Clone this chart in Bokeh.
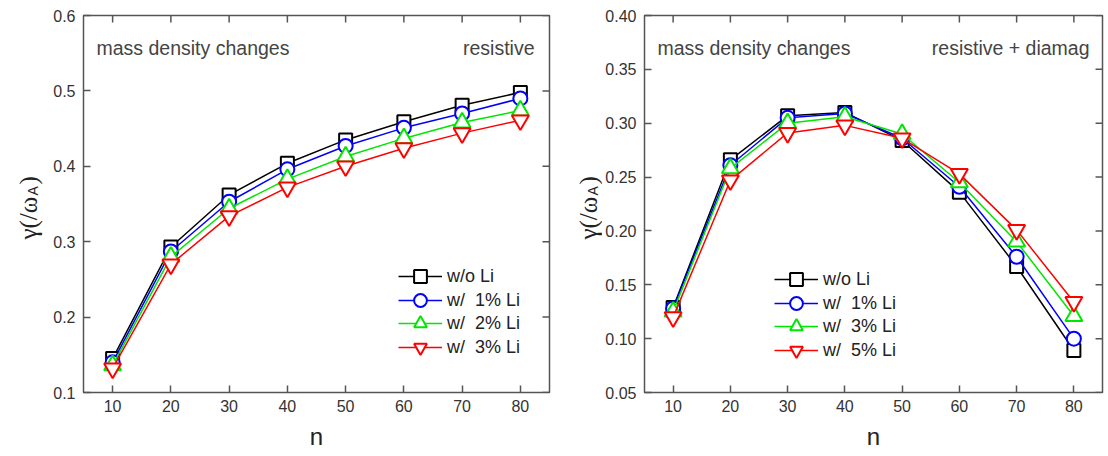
from bokeh.plotting import figure
from bokeh.layouts import row
from bokeh.models import (Range1d, FixedTicker, Legend, LegendItem, Label,
                          NumeralTickFormatter, ColumnDataSource)
from bokeh.embed import file_html
from bokeh.resources import INLINE

# ---------------- data ----------------
n = [10, 20, 30, 40, 50, 60, 70, 80]

left_labels = ["w/o Li", "w/  1% Li", "w/  2% Li", "w/  3% Li"]
left_wo = [0.145, 0.293, 0.362, 0.404, 0.435, 0.459, 0.481, 0.498]
left_1 = [0.140, 0.287, 0.353, 0.396, 0.427, 0.451, 0.470, 0.490]
left_2 = [0.136, 0.280, 0.344, 0.383, 0.413, 0.437, 0.458, 0.474]
left_3 = [0.132, 0.270, 0.334, 0.372, 0.400, 0.424, 0.444, 0.461]

right_labels = ["w/o Li", "w/  1% Li", "w/  3% Li", "w/  5% Li"]
right_wo = [0.129, 0.266, 0.307, 0.310, 0.284, 0.236, 0.167, 0.089]
right_1 = [0.128, 0.261, 0.305, 0.309, 0.286, 0.241, 0.176, 0.100]
right_3 = [0.125, 0.258, 0.300, 0.306, 0.290, 0.245, 0.190, 0.121]
right_5 = [0.120, 0.247, 0.291, 0.298, 0.286, 0.253, 0.201, 0.134]

x_limits = (5, 85)
left_ylim = (0.1, 0.6)
right_ylim = (0.05, 0.40)
left_yticks = [0.1, 0.2, 0.3, 0.4, 0.5, 0.6]
right_yticks = [0.05, 0.10, 0.15, 0.20, 0.25, 0.30, 0.35, 0.40]

left_title_l, left_title_r = "mass density changes", "resistive"
right_title_l, right_title_r = "mass density changes", "resistive + diamag"

colors = ["#000000", "#0000ff", "#00e600", "#ff0000"]
markers = ["square", "circle", "triangle", "inverted_triangle"]
msizes = [13, 14, 17, 17]

FRAME_C = "#555555"
TEXT_C = "#333333"
H = 452
TOP, BOTTOM = 15, 59
FRAME_H = H - TOP - BOTTOM
TICK = 7


def ylabel_fig(width, base_x):
    f = figure(width=width, height=H, output_backend="svg", toolbar_location=None,
               x_axis_location=None, y_axis_location=None,
               min_border_left=0, min_border_right=0,
               min_border_top=TOP, min_border_bottom=BOTTOM,
               x_range=Range1d(0, 1), y_range=Range1d(0, 1))
    f.outline_line_color = None
    f.grid.visible = False
    # positions measured from the frame bottom (which sits at the panels' x axis)
    f.add_layout(Label(x=base_x, y=FRAME_H - 225, x_units="screen", y_units="screen",
                       text="γ(/ω", angle=90, angle_units="deg", text_align="left",
                       text_baseline="alphabetic", text_font="Liberation Serif",
                       text_font_size="25px", text_color="#222222"))
    f.add_layout(Label(x=base_x + 4, y=FRAME_H - 181, x_units="screen", y_units="screen",
                       text="A", angle=90, angle_units="deg", text_align="left",
                       text_baseline="alphabetic", text_font="Liberation Sans",
                       text_font_size="14px", text_color="#222222"))
    f.add_layout(Label(x=base_x, y=FRAME_H - 170, x_units="screen", y_units="screen",
                       text=")", angle=90, angle_units="deg", text_align="left",
                       text_baseline="alphabetic", text_font="Liberation Serif",
                       text_font_size="25px", text_color="#222222"))
    return f


def make_panel(width, bl, br, yr, yticks, yfmt, series, labels, tl, tr, leg_x, leg_ys):
    frame_w = width - bl - br
    p = figure(width=width, height=H, output_backend="svg", toolbar_location=None,
               x_range=Range1d(*x_limits), y_range=Range1d(*yr),
               min_border_left=bl, min_border_right=br, min_border_top=TOP,
               min_border_bottom=BOTTOM)
    p.grid.visible = False
    p.outline_line_color = FRAME_C
    p.outline_line_width = 1.5

    for ax in (p.xaxis[0], p.yaxis[0]):
        ax.axis_line_color = None
        ax.major_tick_in = TICK
        ax.major_tick_out = 0
        ax.major_tick_line_color = FRAME_C
        ax.major_tick_line_width = 1.5
        ax.minor_tick_line_color = None
        ax.major_label_text_font = "Liberation Sans"
        ax.major_label_text_font_size = "16px"
        ax.major_label_text_color = TEXT_C
    p.xaxis.ticker = FixedTicker(ticks=n)
    p.yaxis.ticker = FixedTicker(ticks=yticks)
    p.yaxis.formatter = NumeralTickFormatter(format=yfmt)
    p.xaxis.major_label_standoff = 7
    p.yaxis.major_label_standoff = 8
    p.xaxis.axis_label = "n"
    p.xaxis.axis_label_text_font = "Liberation Sans"
    p.xaxis.axis_label_text_font_size = "24px"
    p.xaxis.axis_label_text_font_style = "normal"
    p.xaxis.axis_label_text_color = "#222222"
    p.xaxis.axis_label_standoff = 8

    # mirrored inward ticks on top and right frame edges
    dy = TICK * (yr[1] - yr[0]) / FRAME_H
    dx = TICK * (x_limits[1] - x_limits[0]) / frame_w
    p.segment(x0=n, y0=[yr[1]] * len(n), x1=n, y1=[yr[1] - dy] * len(n),
              line_color=FRAME_C, line_width=1.5)
    p.segment(x0=[x_limits[1]] * len(yticks), y0=yticks,
              x1=[x_limits[1] - dx] * len(yticks), y1=yticks,
              line_color=FRAME_C, line_width=1.5)

    for ys, lab, c, m, s, ly in zip(series, labels, colors, markers, msizes, leg_ys):
        src = ColumnDataSource(dict(x=n, y=ys))
        ln = p.line("x", "y", source=src, line_color=c, line_width=1.5)
        sc = p.scatter("x", "y", source=src, marker=m, size=s, line_color=c,
                       line_width=2, fill_color="white")
        leg = Legend(items=[LegendItem(label=lab, renderers=[ln, sc])],
                     location=(leg_x, ly), glyph_width=44, glyph_height=32,
                     label_height=20, label_standoff=5, padding=0, margin=0,
                     border_line_color=None, background_fill_alpha=0,
                     label_text_font="Liberation Sans", label_text_font_size="18px",
                     label_text_color="#222222")
        p.add_layout(leg, "center")

    p.add_layout(Label(x=13, y=FRAME_H - 33, x_units="screen", y_units="screen", text=tl,
                       text_baseline="middle", text_align="left",
                       text_font="Liberation Sans", text_font_size="19.5px",
                       text_color="#444444"))
    p.add_layout(Label(x=frame_w - 15, y=FRAME_H - 33, x_units="screen", y_units="screen",
                       text=tr, text_baseline="middle", text_align="right",
                       text_font="Liberation Sans", text_font_size="19.5px",
                       text_color="#444444"))
    return p


yl1 = ylabel_fig(45, 28)
p1 = make_panel(521, 38, 17, left_ylim, left_yticks, "0.0",
                [left_wo, left_1, left_2, left_3], left_labels,
                left_title_l, left_title_r, 315, [100, 76, 53, 29])
yl2 = ylabel_fig(36, 22)
p2 = make_panel(502, 40, 2, right_ylim, right_yticks, "0.00",
                [right_wo, right_1, right_3, right_5], right_labels,
                right_title_l, right_title_r, 130, [97, 73, 50, 26])

layout = row(yl1, p1, yl2, p2)
open("out.html", "w").write(file_html(layout, INLINE))
